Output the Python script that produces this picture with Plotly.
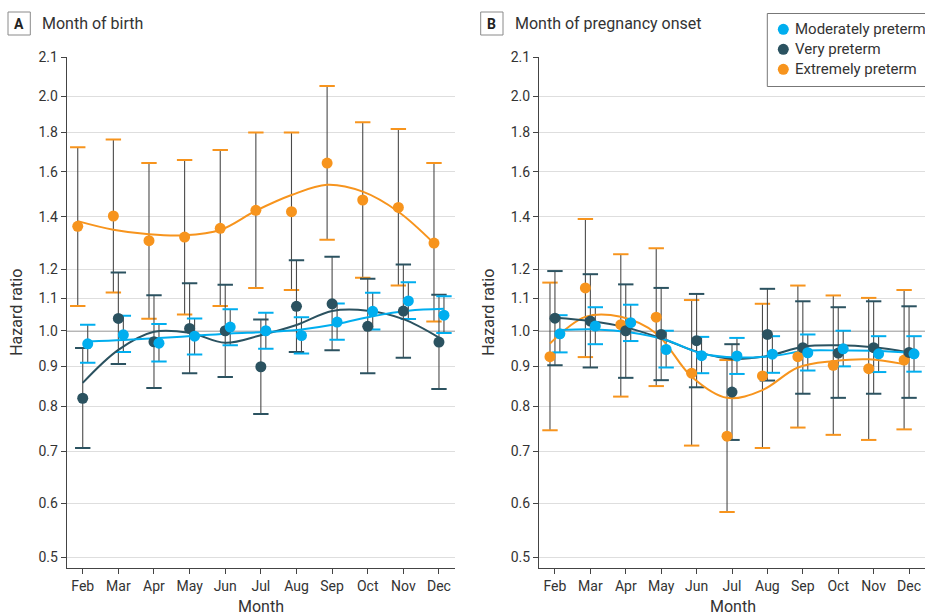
import plotly.graph_objects as go
import math

months = ['Feb', 'Mar', 'Apr', 'May', 'Jun', 'Jul', 'Aug', 'Sep', 'Oct', 'Nov', 'Dec']
series_names = ['Moderately preterm', 'Very preterm', 'Extremely preterm']
colors = {'Moderately preterm': '#00AEEF', 'Very preterm': '#2B5260', 'Extremely preterm': '#F7941D'}

# Panel A: month of birth
A_mod = [0.962, 0.988, 0.964, 0.984, 1.011, 1.000, 0.986, 1.026, 1.059, 1.092, 1.047]
A_mod_lo = [0.910, 0.939, 0.913, 0.932, 0.958, 0.948, 0.935, 0.974, 1.004, 1.035, 0.993]
A_mod_hi = [1.018, 1.045, 1.020, 1.037, 1.066, 1.055, 1.041, 1.084, 1.119, 1.154, 1.107]
A_mod_fit = [0.969, 0.973, 0.979, 0.985, 0.992, 0.996, 1.004, 1.020, 1.044, 1.061, 1.067]

A_very = [0.819, 1.037, 0.968, 1.007, 1.000, 0.899, 1.075, 1.083, 1.013, 1.060, 0.967]
A_very_lo = [0.707, 0.906, 0.844, 0.882, 0.872, 0.782, 0.939, 0.944, 0.882, 0.923, 0.842]
A_very_hi = [0.950, 1.188, 1.111, 1.151, 1.146, 1.034, 1.232, 1.245, 1.166, 1.216, 1.112]
A_very_fit = [0.857, 0.945, 0.997, 0.994, 0.965, 0.987, 1.017, 1.060, 1.061, 1.035, 0.980]

A_ext = [1.362, 1.404, 1.305, 1.319, 1.354, 1.428, 1.422, 1.642, 1.472, 1.440, 1.296]
A_ext_lo = [1.076, 1.120, 1.036, 1.049, 1.076, 1.135, 1.128, 1.309, 1.170, 1.143, 1.028]
A_ext_hi = [1.720, 1.760, 1.642, 1.657, 1.707, 1.797, 1.797, 2.063, 1.853, 1.816, 1.642]
A_ext_fit = [1.383, 1.348, 1.330, 1.326, 1.347, 1.426, 1.494, 1.540, 1.509, 1.422, 1.295]

# Panel B: month of pregnancy onset
B_mod = [0.991, 1.014, 1.024, 0.946, 0.929, 0.928, 0.933, 0.937, 0.948, 0.934, 0.934]
B_mod_lo = [0.938, 0.961, 0.970, 0.897, 0.882, 0.880, 0.883, 0.889, 0.900, 0.885, 0.886]
B_mod_hi = [1.047, 1.072, 1.080, 1.000, 0.982, 0.979, 0.984, 0.989, 1.000, 0.984, 0.984]
B_mod_fit = [1.002, 1.004, 0.995, 0.973, 0.935, 0.924, 0.928, 0.943, 0.943, 0.942, 0.937]

B_very = [1.038, 1.029, 1.000, 0.989, 0.971, 0.834, 0.989, 0.951, 0.936, 0.951, 0.938]
B_very_lo = [0.903, 0.897, 0.870, 0.864, 0.846, 0.724, 0.863, 0.830, 0.820, 0.830, 0.820]
B_very_hi = [1.193, 1.182, 1.147, 1.135, 1.115, 0.961, 1.132, 1.091, 1.072, 1.091, 1.075]
B_very_fit = [1.039, 1.029, 1.010, 0.978, 0.940, 0.920, 0.928, 0.954, 0.958, 0.952, 0.938]

B_ext = [0.926, 1.135, 1.018, 1.041, 0.882, 0.732, 0.875, 0.926, 0.903, 0.894, 0.917]
B_ext_lo = [0.745, 0.925, 0.823, 0.849, 0.712, 0.585, 0.707, 0.751, 0.735, 0.724, 0.747]
B_ext_hi = [1.153, 1.392, 1.254, 1.276, 1.095, 0.917, 1.083, 1.143, 1.110, 1.102, 1.128]
B_ext_fit = [0.963, 1.042, 1.042, 0.992, 0.873, 0.820, 0.839, 0.897, 0.914, 0.919, 0.906]

y_tick_labels = ['0.5', '0.6', '0.7', '0.8', '0.9', '1.0', '1.1', '1.2', '1.4', '1.6', '1.8', '2.0', '2.1']
y_tick_vals = [0.5115, 0.6, 0.7, 0.8, 0.9, 1.0, 1.1, 1.2, 1.4, 1.6, 1.8, 2.0, 2.245]

panels = {
    'A': {
        'Moderately preterm': (A_mod, A_mod_lo, A_mod_hi, A_mod_fit),
        'Very preterm': (A_very, A_very_lo, A_very_hi, A_very_fit),
        'Extremely preterm': (A_ext, A_ext_lo, A_ext_hi, A_ext_fit),
    },
    'B': {
        'Moderately preterm': (B_mod, B_mod_lo, B_mod_hi, B_mod_fit),
        'Very preterm': (B_very, B_very_lo, B_very_hi, B_very_fit),
        'Extremely preterm': (B_ext, B_ext_lo, B_ext_hi, B_ext_fit),
    },
}
offsets = {'Moderately preterm': 0.14, 'Very preterm': 0.0, 'Extremely preterm': -0.14}
axes = {'A': ('x', 'y'), 'B': ('x2', 'y2')}

FONT = 'Roboto'
TXT = '#333333'
W, H = 925, 616

fig = go.Figure()
draw_order = ['Extremely preterm', 'Very preterm', 'Moderately preterm']

for p, (xa, ya) in axes.items():
    # error bar stems and caps
    for name in draw_order:
        v, lo, hi, fit = panels[p][name]
        xs = [i + offsets[name] for i in range(len(months))]
        fig.add_trace(go.Scatter(
            x=xs, y=v, mode='markers', marker=dict(size=1, opacity=0),
            error_y=dict(type='data', symmetric=False,
                         array=[h - c for h, c in zip(hi, v)],
                         arrayminus=[c - l for c, l in zip(v, lo)],
                         color='#4a4a4a', thickness=1.1, width=0),
            xaxis=xa, yaxis=ya, showlegend=False, hoverinfo='skip'))
        fig.add_trace(go.Scatter(
            x=xs + xs, y=lo + hi, mode='markers',
            marker=dict(symbol='line-ew', size=11, line=dict(color=colors[name], width=2)),
            xaxis=xa, yaxis=ya, showlegend=False, hoverinfo='skip'))
    # fitted curves
    for name in draw_order:
        v, lo, hi, fit = panels[p][name]
        xs = [i + offsets[name] for i in range(len(months))]
        fig.add_trace(go.Scatter(
            x=xs, y=fit, mode='lines', line=dict(color=colors[name], width=2, shape='spline', smoothing=1.0),
            xaxis=xa, yaxis=ya, showlegend=False, hoverinfo='skip'))
    # points
    for name in draw_order:
        v, lo, hi, fit = panels[p][name]
        xs = [i + offsets[name] for i in range(len(months))]
        fig.add_trace(go.Scatter(
            x=xs, y=v, mode='markers', name=name,
            marker=dict(size=11, color=colors[name]),
            xaxis=xa, yaxis=ya, showlegend=False))

ylog_range = [math.log10(0.4953), math.log10(2.245)]
ydom = [1 - 568.3 / H, 1 - 57.3 / H]
xaxis_common = dict(range=[-0.45, 10.45], tickmode='array', tickvals=list(range(len(months))),
                    ticktext=months, showline=True, linecolor='#444', linewidth=1,
                    ticks='outside', ticklen=5, tickcolor='#444', showgrid=False, zeroline=False,
                    tickfont=dict(family=FONT, size=14, color=TXT), automargin=False)
yaxis_common = dict(type='log', range=ylog_range, domain=ydom, tickmode='array',
                    tickvals=y_tick_vals, ticktext=y_tick_labels, showline=True, linecolor='#444',
                    linewidth=1, ticks='outside', ticklen=5, tickcolor='#444', showgrid=True,
                    gridcolor='#dedede', gridwidth=1, zeroline=False,
                    tickfont=dict(family=FONT, size=14, color=TXT), automargin=False)

fig.update_layout(
    width=W, height=H,
    margin=dict(l=0, r=0, t=0, b=0, autoexpand=False),
    paper_bgcolor='white', plot_bgcolor='white',
    font=dict(family=FONT, size=14, color=TXT),
    xaxis=dict(domain=[66.7 / W, 455 / W], anchor='y', **xaxis_common),
    yaxis=dict(anchor='x', **yaxis_common),
    xaxis2=dict(domain=[539 / W, 1.0], anchor='y2', **xaxis_common),
    yaxis2=dict(anchor='x2', **yaxis_common),
    showlegend=False,
)

# reference line at HR = 1.0
for xa, ya in axes.values():
    fig.add_shape(type='line', xref=f'{xa} domain', yref=ya, x0=0, x1=1, y0=1.0, y1=1.0,
                  line=dict(color='#6e6e6e', width=1.5), layer='below')

# legend box (drawn by hand, clipped at the right edge as in the original)
fig.add_shape(type='rect', xref='paper', yref='paper', x0=767.3 / W, x1=940 / W,
              y0=1 - 86.5 / H, y1=1 - 13.5 / H, line=dict(color='#777', width=1), fillcolor='white')
for k, name in enumerate(series_names):
    cy = 29.3 + 20 * k
    fig.add_shape(type='circle', xref='paper', yref='paper',
                  x0=(783.3 - 5.5) / W, x1=(783.3 + 5.5) / W, y0=1 - (cy + 5.5) / H, y1=1 - (cy - 5.5) / H,
                  line=dict(width=0), fillcolor=colors[name])
    fig.add_annotation(x=793.3 / W, y=1 - cy / H, xref='paper', yref='paper', text=name,
                       showarrow=False, font=dict(family=FONT, size=15, color=TXT),
                       xanchor='left', yanchor='middle')

# panel labels
panel_titles = [('A', 'Month of birth', 8, 40), ('B', 'Month of pregnancy onset', 480.7, 513)]
for letter, title, bx, tx in panel_titles:
    fig.add_shape(type='rect', xref='paper', yref='paper', x0=bx / W, x1=(bx + 22.3) / W,
                  y0=1 - 35 / H, y1=1 - 12 / H, line=dict(color='#8a8a8a', width=1), fillcolor='white')
    fig.add_annotation(x=(bx + 11.15) / W, y=1 - 23.5 / H, xref='paper', yref='paper', text=f'<b>{letter}</b>',
                       showarrow=False, font=dict(family=FONT, size=14, color='#222'), xanchor='center', yanchor='middle')
    fig.add_annotation(x=tx / W, y=1 - 23.5 / H, xref='paper', yref='paper', text=title,
                       showarrow=False, font=dict(family=FONT, size=16, color=TXT), xanchor='left', yanchor='middle')

# axis titles
for ycx, mx in [(17, 260.5), (489, 733)]:
    fig.add_annotation(x=ycx / W, y=1 - 312.8 / H, xref='paper', yref='paper', text='Hazard ratio',
                       textangle=-90, showarrow=False, font=dict(family=FONT, size=16, color=TXT),
                       xanchor='center', yanchor='middle')
    fig.add_annotation(x=mx / W, y=1 - 606.5 / H, xref='paper', yref='paper', text='Month',
                       showarrow=False, font=dict(family=FONT, size=16, color=TXT),
                       xanchor='center', yanchor='middle')

fig.write_html('out.html')
